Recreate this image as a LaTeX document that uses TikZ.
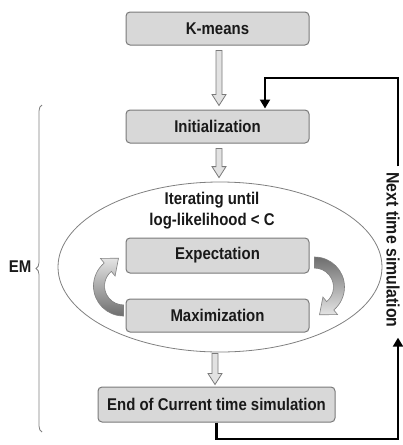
\documentclass[tikz,border=0pt]{standalone}
\usepackage{fontspec}
\setmainfont{Liberation Sans}[FakeStretch=0.88]
\usetikzlibrary{arrows.meta,decorations.pathreplacing,shapes.geometric,calc}
\definecolor{boxfill}{HTML}{D8D8D8}
\definecolor{boxedge}{HTML}{7A7A7A}
\definecolor{harrowfill}{HTML}{E2E2E2}
\definecolor{darkband}{HTML}{6E6E6E}
\definecolor{lightband}{HTML}{E4E4E4}
\tikzset{
  stepbox/.style={draw=boxedge, fill=boxfill, rounded corners=4pt, line width=1pt,
    minimum width=183pt, minimum height=33pt, inner sep=0pt, text=black!90},
  harrow/.style={draw=boxedge, fill=harrowfill, line width=0.8pt},
  looparrow/.style={line width=2.6pt, black, -{Triangle[length=9pt,width=10pt]}},
  cycarrow/.style={draw=gray, line width=0.6pt},
  txt/.style={font=\fontsize{17}{21}\selectfont\bfseries, text=black!90},
}
\newcommand\hollowarr[2]{%
  \path[harrow] let \p1=(#1), \p2=(#2) in
    (\x1-3pt,\y1) -- (\x1+3pt,\y1) -- (\x1+3pt,\y2+11pt) -- (\x1+7pt,\y2+11pt)
    -- (\x1,\y2) -- (\x1-7pt,\y2+11pt) -- (\x1-3pt,\y2+11pt) -- cycle;}
\begin{document}
\begin{tikzpicture}[x=1pt,y=-1pt, font=\fontsize{17}{21}\selectfont\bfseries]
\useasboundingbox (0,0) rectangle (403,445);
\fill[white] (0,0) rectangle (403,445);

% boxes
\node[stepbox] (km) at (217.5,28.5) {K-means};
\node[stepbox] (init) at (217.5,126.5) {Initialization};
\node[draw=gray, line width=0.8pt, ellipse, minimum width=324pt, minimum height=170pt] (ell) at (220,267) {};
\node[txt, align=center] (iter) at (212,211) {Iterating until\\log-likelihood < C};
\node[stepbox, minimum height=35pt] (exp) at (217.5,255.5) {Expectation};
\node[stepbox] (max) at (217.5,315.5) {Maximization};
\node[stepbox, minimum width=237pt, minimum height=35pt] (end) at (216.5,404.5) {End of Current time simulation};

% hollow arrows
\hollowarr{$(km.south)+(1.5,5)$}{$(init.north)+(1.5,-4)$}
\hollowarr{$(init.south)+(1.5,5)$}{$(ell.north -| init.south)+(1.5,-4)$}
\hollowarr{$(ell.south -| end.north)+(-1.5,1)$}{$(end.north)+(-1.5,-2)$}

% cycle arrows
\begin{scope}[shift={($(exp.east)!0.5!(max.east)+(5,1.5)$)}]
  \shade[cycarrow, top color=darkband, bottom color=lightband]
    (0,-30) arc[start angle=-90,end angle=50,radius=30] -- (23.1,27.6) -- (5,27.8)
    -- (8.4,10) -- (12.2,14.6) arc[start angle=50,end angle=-90,radius=19] -- cycle;
\end{scope}
\begin{scope}[shift={($(exp.west)!0.5!(max.west)+(-2,0.5)$)}]
  \shade[cycarrow, top color=lightband, bottom color=darkband]
    (0,30) arc[start angle=90,end angle=230,radius=30] -- (-23.1,-27.6) -- (-5,-27.8)
    -- (-8.4,-10) -- (-12.2,-14.6) arc[start angle=230,end angle=90,radius=19] -- cycle;
\end{scope}

% EM brace
\node[txt] (em) at (20,267) {EM};
\coordinate (bbot) at (42,432);
\coordinate (btop) at (42,105);
\draw[gray, line width=0.8pt, decorate, decoration={brace, amplitude=6pt}] (bbot) -- (btop);

% next time simulation loop
\node[rotate=-90, font=\fontsize{18}{21}\selectfont\bfseries, text=black!90, inner sep=2pt] (nts) at (393,250) {Next time simulation};
\coordinate (bl) at (398,439);
\coordinate (tr) at (398,78);
\coordinate (tl) at (265,78);
\coordinate (ntsb) at ($(nts.east)+(0,8)$);
\coordinate (ntst) at ($(nts.west)+(0,-4)$);
\draw[looparrow] (end.south) |- (bl) -- (bl |- ntsb);
\draw[looparrow, shorten >=1pt] (tr |- ntst) -- (tr) -- (tl) -- (tl |- init.north);
\end{tikzpicture}
\end{document}
